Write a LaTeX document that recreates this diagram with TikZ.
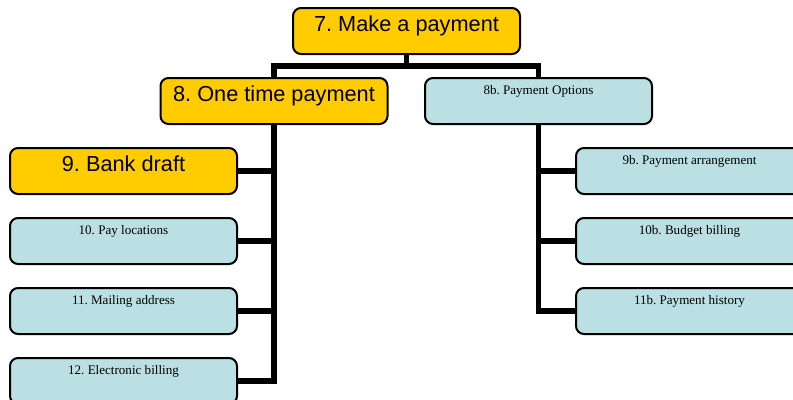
\documentclass[tikz,border=0pt]{standalone}
\usepackage{fontspec}
\setmainfont{Liberation Serif}
\newfontfamily\arialfont{Liberation Sans}
\definecolor{boxyellow}{RGB}{255,204,0}
\definecolor{boxblue}{RGB}{186,224,227}
\frenchspacing
\begin{document}
\begin{tikzpicture}[x=0.75pt,y=-0.75pt,
  basebox/.style={draw=black, line width=1.5pt, rounded corners=6pt,
    minimum width=170.25pt, inner xsep=0pt, inner ysep=0pt, outer sep=0pt},
  ybox/.style={basebox, fill=boxyellow, font=\arialfont\fontsize{16.3}{18}\selectfont,
    text height=17.25pt, text depth=17.25pt},
  bbox/.style={basebox, fill=boxblue, font=\fontsize{9.8}{11}\selectfont,
    text height=12pt, text depth=22.5pt},
  conn/.style={draw=black, line width=3.8pt}
]
\clip (0,0) rectangle (793,400);
\fill[white] (0,0) rectangle (793,400);

\node[ybox] (n7) at (406.5,31) {7. Make a payment};
\node[ybox] (n8) at (274,101) {8. One time payment};
\node[bbox] (n8b) at (538.5,101) {8b. Payment Options};

\node[ybox] (n9) at (123.5,171) {9. Bank draft};
\node[bbox] (n10) at (123.5,241) {10. Pay locations};
\node[bbox] (n11) at (123.5,311) {11. Mailing address};
\node[bbox] (n12) at (123.5,381) {12. Electronic billing};

\node[bbox] (n9b) at (689.5,171) {9b. Payment arrangement};
\node[bbox] (n10b) at (689.5,241) {10b. Budget billing};
\node[bbox] (n11b) at (689.5,311) {11b. Payment history};

\draw[conn] (n7.south) -- ++(0,12) -| (n8.north);
\draw[conn] (n7.south) -- ++(0,12) -| (n8b.north);

\draw[conn] (n8.south) |- (n9.east);
\draw[conn] (n8.south) |- (n10.east);
\draw[conn] (n8.south) |- (n11.east);
\draw[conn] (n8.south) |- (n12.east);

\draw[conn] (n8b.south) |- (n9b.west);
\draw[conn] (n8b.south) |- (n10b.west);
\draw[conn] (n8b.south) |- (n11b.west);
\end{tikzpicture}
\end{document}
